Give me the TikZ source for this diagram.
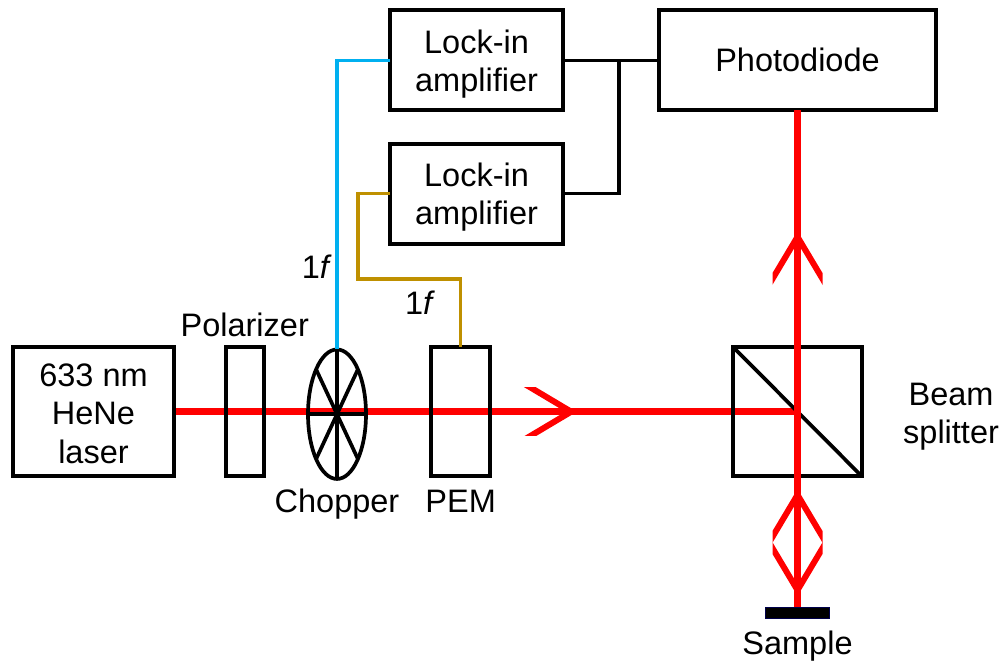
\documentclass[tikz,border=0pt]{standalone}
\usepackage{fontspec}
\setmainfont{Liberation Sans}
\usetikzlibrary{arrows.meta,positioning,shapes.geometric,calc}
\definecolor{chopperblue}{HTML}{00B0F0}
\definecolor{pemgold}{HTML}{BF9000}
\newcommand{\lowtext}[1][31pt]{\rule{0pt}{#1}}
\pgfdeclarelayer{beamlayer}
\pgfsetlayers{beamlayer,main}

\begin{document}
\begin{tikzpicture}[
  node distance=33.3pt,
  font=\fontsize{32.5}{38.5}\selectfont,
  box/.style={rectangle, draw, line width=4pt, outer sep=0pt, align=center, minimum height=100pt},
  optic/.style={rectangle, draw, line width=4pt, outer sep=0pt, minimum height=129.5pt},
  label/.style={inner sep=0pt, align=center},
  wire/.style={line width=3.4pt},
  spoke/.style={line width=3.7pt},
  beam/.style={draw=red, line width=7pt},
  barb/.style={beam, -{Straight Barb[length=47pt, width=56pt, line width=6pt]}}
]
\useasboundingbox (0,0) rectangle (1005pt,-662pt);

\node[optic, minimum width=161pt, align=center] (laser) at (93.5pt,-411.7pt) {\lowtext[26pt]633 nm\\HeNe\\laser};
\node[optic, minimum width=38.5pt, right=51.5pt of laser] (polarizer) {};
\node[ellipse, draw, line width=3.7pt, outer sep=0pt, inner sep=0pt, minimum width=58pt, minimum height=129.5pt, right=44pt of polarizer, yshift=-2.5pt] (chopper) {};
\node[optic, minimum width=58.7pt, right=167.3pt of polarizer] (pem) {};
\node[optic, minimum width=129pt, right=243pt of pem] (split) {};

\node[box, minimum width=276.5pt, above=236.7pt of split] (diode) {Photodiode};
\node[box, minimum width=173pt, left=96.2pt of diode] (lockina) {\lowtext Lock-in\\amplifier};
\node[box, minimum width=173pt, below=of lockina] (lockinb) {\lowtext Lock-in\\amplifier};

\node[rectangle, fill=black, draw=black!70!blue, line width=1pt, minimum width=64pt, minimum height=11pt, inner sep=0pt, outer sep=0pt, below=131pt of split] (sample) {};

\coordinate[right=87pt of pem.east] (tipa);
\coordinate (tipb) at (split |- 0,-231pt);
\coordinate (tipc) at (split |- 0,-489pt);
\coordinate (tipd) at (split |- 0,-596pt);
\coordinate[right=56pt of lockina.east] (junction);
\coordinate (goldknee) at (358pt,-279pt);

% labels
\node[label, above=10pt of polarizer] (polarizerlabel) {Polarizer};
\node[label, below=10pt of chopper] (chopperlabel) {Chopper};
\node[label, below=13pt of pem] (pemlabel) {PEM};
\node[label, right=41pt of split, yshift=-5pt] (splitlabel) {Beam\\splitter};
\node[label, below=12.5pt of sample] (samplelabel) {Sample};
\node[label, left=5pt of chopper.north, yshift=83pt] (bluelabel) {1\textit{f}};
\node[label, below=12pt of goldknee, xshift=62pt] (goldlabel) {1\textit{f}};

% signal lines
\draw[wire] (lockina) -- (diode);
\draw[wire] (lockinb) -| (junction);
\draw[wire, draw=chopperblue] (lockina) -| (chopper.north);
\draw[wire, draw=pemgold] (lockinb) -| (goldknee) -| (pem.north);

% spokes
\draw[spoke] (chopper.north) -- (chopper.south);
\draw[spoke] (chopper.west) -- (chopper.east);
\draw[spoke] (chopper.115) -- (chopper.295);
\draw[spoke] (chopper.65) -- (chopper.245);

% beam under the optics
\begin{pgfonlayer}{beamlayer}
\draw[beam] (laser.east) -- (tipa -| split.center);
\begin{scope}
\clip ($(tipa)+(-60pt,-24pt)$) rectangle ($(tipa)+(10pt,24pt)$);
\draw[barb] (pem.east) -- (tipa);
\end{scope}
\end{pgfonlayer}

\draw[spoke] (split.north west) -- (split.south east);
\draw[beam] (sample.north) -- (diode.south);

% chevrons cut off at the sides
\begin{scope}
\clip ($(tipb)+(-25pt,10pt)$) rectangle ($(tipd)+(25pt,-10pt)$);
\draw[barb] (split.center) -- (tipb);
\draw[barb] (sample.north) -- (tipc);
\draw[barb] (split.center) -- (tipd);
\end{scope}

\end{tikzpicture}
\end{document}
